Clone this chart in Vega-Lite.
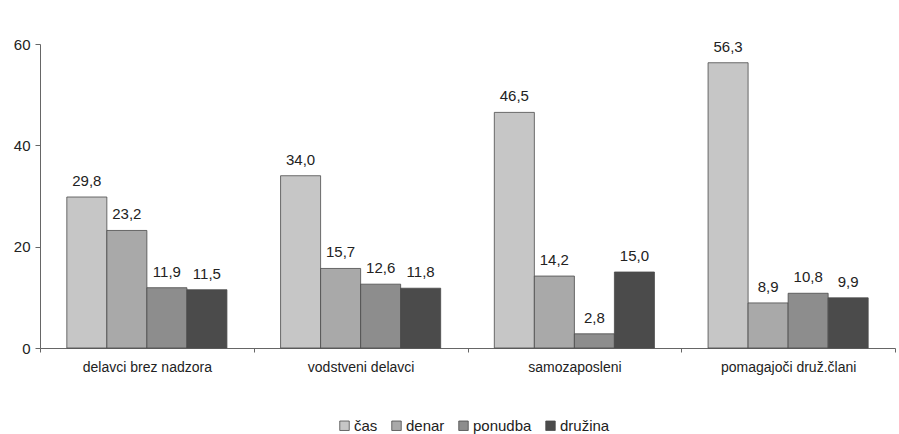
{
  "$schema": "https://vega.github.io/schema/vega-lite/v6.json",
  "width": 855,
  "height": 304,
  "autosize": {"type": "none"},
  "padding": {"left": 40, "top": 44, "right": 4, "bottom": 86},
  "background": "white",
  "data": {
    "values": [
      {"skupina": "delavci brez nadzora", "vrsta": "čas", "delez": 29.8},
      {"skupina": "delavci brez nadzora", "vrsta": "denar", "delez": 23.2},
      {"skupina": "delavci brez nadzora", "vrsta": "ponudba", "delez": 11.9},
      {"skupina": "delavci brez nadzora", "vrsta": "družina", "delez": 11.5},
      {"skupina": "vodstveni delavci", "vrsta": "čas", "delez": 34.0},
      {"skupina": "vodstveni delavci", "vrsta": "denar", "delez": 15.7},
      {"skupina": "vodstveni delavci", "vrsta": "ponudba", "delez": 12.6},
      {"skupina": "vodstveni delavci", "vrsta": "družina", "delez": 11.8},
      {"skupina": "samozaposleni", "vrsta": "čas", "delez": 46.5},
      {"skupina": "samozaposleni", "vrsta": "denar", "delez": 14.2},
      {"skupina": "samozaposleni", "vrsta": "ponudba", "delez": 2.8},
      {"skupina": "samozaposleni", "vrsta": "družina", "delez": 15.0},
      {"skupina": "pomagajoči druž.člani", "vrsta": "čas", "delez": 56.3},
      {"skupina": "pomagajoči druž.člani", "vrsta": "denar", "delez": 8.9},
      {"skupina": "pomagajoči druž.člani", "vrsta": "ponudba", "delez": 10.8},
      {"skupina": "pomagajoči druž.člani", "vrsta": "družina", "delez": 9.9}
    ]
  },
  "encoding": {
    "x": {
      "field": "skupina",
      "type": "nominal",
      "sort": ["delavci brez nadzora", "vodstveni delavci", "samozaposleni", "pomagajoči druž.člani"],
      "scale": {"paddingInner": 0, "paddingOuter": 0},
      "axis": {
        "title": null,
        "labelAngle": 0,
        "tickBand": "extent",
        "labelPadding": 8,
        "tickSize": 4,
        "domainColor": "#666",
        "tickColor": "#666",
        "labelColor": "#222",
        "labelFontSize": 14
      }
    },
    "xOffset": {
      "field": "vrsta",
      "type": "nominal",
      "sort": ["čas", "denar", "ponudba", "družina"],
      "scale": {"paddingInner": 0, "paddingOuter": 0.67}
    },
    "y": {
      "field": "delez",
      "type": "quantitative",
      "scale": {"domain": [0, 60], "nice": false},
      "axis": {
        "title": null,
        "values": [0, 20, 40, 60],
        "grid": false,
        "tickSize": 5,
        "labelPadding": 5,
        "domainColor": "#666",
        "tickColor": "#666",
        "labelColor": "#222",
        "labelFontSize": 15
      }
    }
  },
  "layer": [
    {
      "mark": {"type": "bar", "stroke": "#4a4a4a", "strokeWidth": 0.8},
      "encoding": {
        "color": {
          "field": "vrsta",
          "type": "nominal",
          "sort": ["čas", "denar", "ponudba", "družina"],
          "scale": {"domain": ["čas", "denar", "ponudba", "družina"], "range": ["#c6c6c6", "#a9a9a9", "#8d8d8d", "#4b4b4b"]},
          "legend": {
            "title": null,
            "orient": "none",
            "direction": "horizontal",
            "legendX": 297,
            "legendY": 374,
            "symbolType": "square",
            "symbolSize": 90,
            "symbolStrokeColor": "#4a4a4a",
            "symbolStrokeWidth": 0.8,
            "labelFontSize": 15,
            "labelColor": "#222",
            "columnPadding": 11,
            "labelOffset": 2
          }
        }
      }
    },
    {
      "mark": {"type": "text", "baseline": "bottom", "dy": -8, "fontSize": 15, "color": "#222"},
      "encoding": {
        "text": {"field": "delez", "type": "quantitative", "format": ".1f"}
      }
    }
  ],
  "config": {
    "font": "Liberation Sans",
    "view": {"stroke": null},
    "locale": {
      "number": {"decimal": ",", "thousands": ".", "grouping": [3], "currency": ["", " €"]}
    }
  }
}
